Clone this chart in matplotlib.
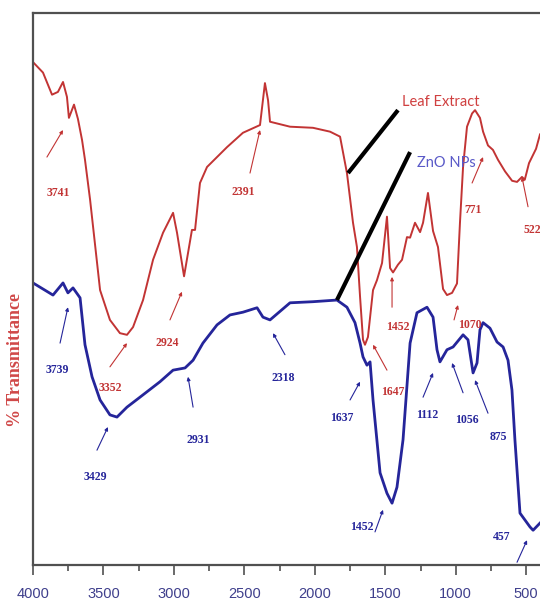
import numpy as np
import matplotlib.pyplot as plt

# FTIR spectra: wavenumber (cm-1) vs % transmittance (arbitrary offset units)
leaf_wn = [4000, 3929, 3865, 3823, 3787, 3759, 3745, 3709, 3681, 3652, 3631, 3595,
           3524, 3454, 3383, 3333, 3290, 3219, 3148, 3077, 3006, 2978, 2928, 2900,
           2872, 2850, 2815, 2765, 2623, 2510, 2389, 2354, 2332, 2318, 2176, 2013,
           1892, 1821, 1772, 1729, 1701, 1679, 1658, 1644, 1623, 1587, 1559, 1523,
           1488, 1466, 1445, 1410, 1381, 1346, 1324, 1289, 1253, 1232, 1197, 1161,
           1126, 1090, 1062, 1026, 991, 970, 948, 920, 884, 863, 828, 806, 771,
           736, 700, 650, 600, 565, 530, 510, 480, 430, 402]
leaf_t = [91.1, 89.2, 85.2, 85.7, 87.5, 84.8, 81.0, 83.4, 80.8, 77.0, 73.4, 66.2,
          49.8, 44.4, 42.0, 41.7, 43.1, 48.0, 55.3, 60.2, 63.8, 60.2, 52.3, 56.5,
          60.7, 60.7, 69.2, 72.1, 75.7, 78.3, 79.7, 87.3, 84.2, 80.3, 79.4, 79.2,
          78.5, 77.6, 71.0, 62.0, 57.6, 48.6, 40.8, 39.9, 41.3, 49.8, 51.6, 54.7,
          63.1, 53.8, 53.0, 54.4, 55.3, 59.4, 59.3, 62.0, 60.3, 62.0, 67.4, 60.5,
          57.6, 50.0, 48.9, 49.3, 51.0, 62.0, 72.1, 79.4, 81.8, 82.4, 81.0, 78.5,
          76.0, 75.2, 73.4, 71.3, 69.6, 69.4, 70.3, 69.8, 72.8, 75.4, 78.0]

zno_wn = [4000, 3929, 3858, 3787, 3752, 3716, 3666, 3631, 3581, 3524, 3454, 3404,
          3333, 3241, 3099, 3006, 2921, 2864, 2794, 2694, 2602, 2510, 2410, 2368,
          2318, 2176, 2013, 1843, 1772, 1715, 1679, 1658, 1630, 1608, 1587, 1537,
          1488, 1452, 1417, 1374, 1324, 1275, 1204, 1161, 1133, 1112, 1062, 1019,
          948, 913, 877, 849, 828, 806, 757, 707, 664, 629, 601, 580, 544, 473,
          451, 402]
zno_t = [51.1, 50.0, 48.9, 51.1, 49.3, 50.2, 48.4, 39.9, 34.1, 29.9, 27.2, 26.8,
         28.6, 30.4, 33.2, 35.3, 35.7, 37.1, 40.2, 43.5, 45.3, 45.8, 46.6, 44.9,
         44.4, 47.5, 47.7, 48.0, 46.7, 43.9, 40.2, 37.7, 36.2, 36.8, 29.9, 16.7,
         13.0, 11.2, 14.1, 22.7, 40.2, 45.7, 46.7, 44.9, 39.0, 36.8, 39.0, 39.5,
         41.7, 40.8, 34.8, 36.6, 42.6, 43.9, 42.9, 40.4, 39.5, 37.1, 31.7, 22.7,
         9.4, 6.9, 6.3, 7.6]

# peak labels: text, label position, arrow tail, arrow head
leaf_peaks = [
    ("3741", (3823, 67.4), (3901, 73.9), (3787, 78.8)),
    ("2391", (2510, 67.6), (2460, 71.0), (2389, 78.8)),
    ("3352", (3454, 32.1), (3454, 35.9), (3333, 40.2)),
    ("2924", (3049, 40.2), (3028, 44.4), (2943, 49.5)),
    ("1452", (1410, 43.1), (1452, 46.7), (1452, 52.2)),
    ("1647", (1445, 31.3), (1488, 35.3), (1587, 39.9)),
    ("1070", (899, 43.5), (1012, 44.4), (984, 47.1)),
    ("771", (877, 64.3), (884, 69.2), (806, 73.9)),
    ("522", (459, 60.7), (487, 64.9), (530, 70.3)),
]
zno_peaks = [
    ("3739", (3830, 35.3), (3808, 40.2), (3752, 46.7)),
    ("3429", (3560, 15.9), (3546, 20.8), (3468, 25.0)),
    ("2931", (2829, 22.7), (2864, 28.6), (2900, 34.1)),
    ("2318", (2226, 33.9), (2212, 38.1), (2297, 42.0)),
    ("1637", (1807, 26.6), (1750, 29.9), (1679, 33.2)),
    ("1452", (1665, 6.9), (1573, 6.0), (1516, 10.0)),
    ("1112", (1204, 27.2), (1232, 30.4), (1161, 34.8)),
    ("1056", (920, 26.3), (948, 31.2), (1026, 36.6)),
    ("875", (700, 23.2), (771, 27.5), (863, 33.5)),
    ("457", (671, 5.1), (565, 0.5), (494, 4.5)),
]

red = '#c23434'
blue = '#25259a'

fig = plt.figure(figsize=(5.4, 6.09), dpi=100)
ax = fig.add_axes([0.0611, 0.0722, 0.9389, 0.9065])

ax.plot(leaf_wn, leaf_t, color=red, lw=1.4)
ax.plot(zno_wn, zno_t, color=blue, lw=2.0)

for peaks, col in [(leaf_peaks, red), (zno_peaks, blue)]:
    for txt, pos, tail, head in peaks:
        ax.text(pos[0], pos[1], txt, color=col, fontsize=8.5, fontweight='bold',
                family='Liberation Serif', ha='center', va='center')
        ax.annotate('', xy=head, xytext=tail,
                    arrowprops=dict(arrowstyle='-|>', color=col, lw=0.8,
                                    mutation_scale=5, shrinkA=0, shrinkB=0))

# series labels with pointer lines
ax.plot([1764, 1410], [71.0, 82.4], color='black', lw=3, solid_capstyle='butt')
ax.plot([1843, 1324], [48.0, 74.8], color='black', lw=3, solid_capstyle='butt')
ax.text(1381, 83.9, "Leaf Extract", color='#d04040', fontsize=10.5,
        family='Lato', ha='left', va='center')
ax.text(1275, 72.8, "ZnO NPs", color='#5a5ac8', fontsize=10.5,
        family='Lato', ha='left', va='center')

ax.set_xlim(4000, 402)
ax.set_ylim(0, 100)
ax.set_xticks(np.arange(4000, 499, -500))
ax.set_xticks(np.arange(3750, 499, -500), minor=True)
ax.set_yticks([])
ax.tick_params(axis='x', which='major', direction='out', length=7, width=1.2,
               color='#505050', pad=9, labelsize=10.5, labelcolor='#3f3f8c')
ax.tick_params(axis='x', which='minor', direction='out', length=4, width=1.2,
               color='#505050')
for lab in ax.get_xticklabels():
    lab.set_family('Liberation Sans')

for side in ['top', 'left', 'bottom']:
    ax.spines[side].set_color('#505050')
    ax.spines[side].set_linewidth(1.6)
ax.spines['right'].set_visible(False)

fig.text(0.028, 0.409, "% Transmittance", color='#d04848', fontsize=13,
         fontweight='bold', family='Liberation Serif', rotation=90,
         ha='center', va='center')

fig.savefig('out.png', dpi=100)
